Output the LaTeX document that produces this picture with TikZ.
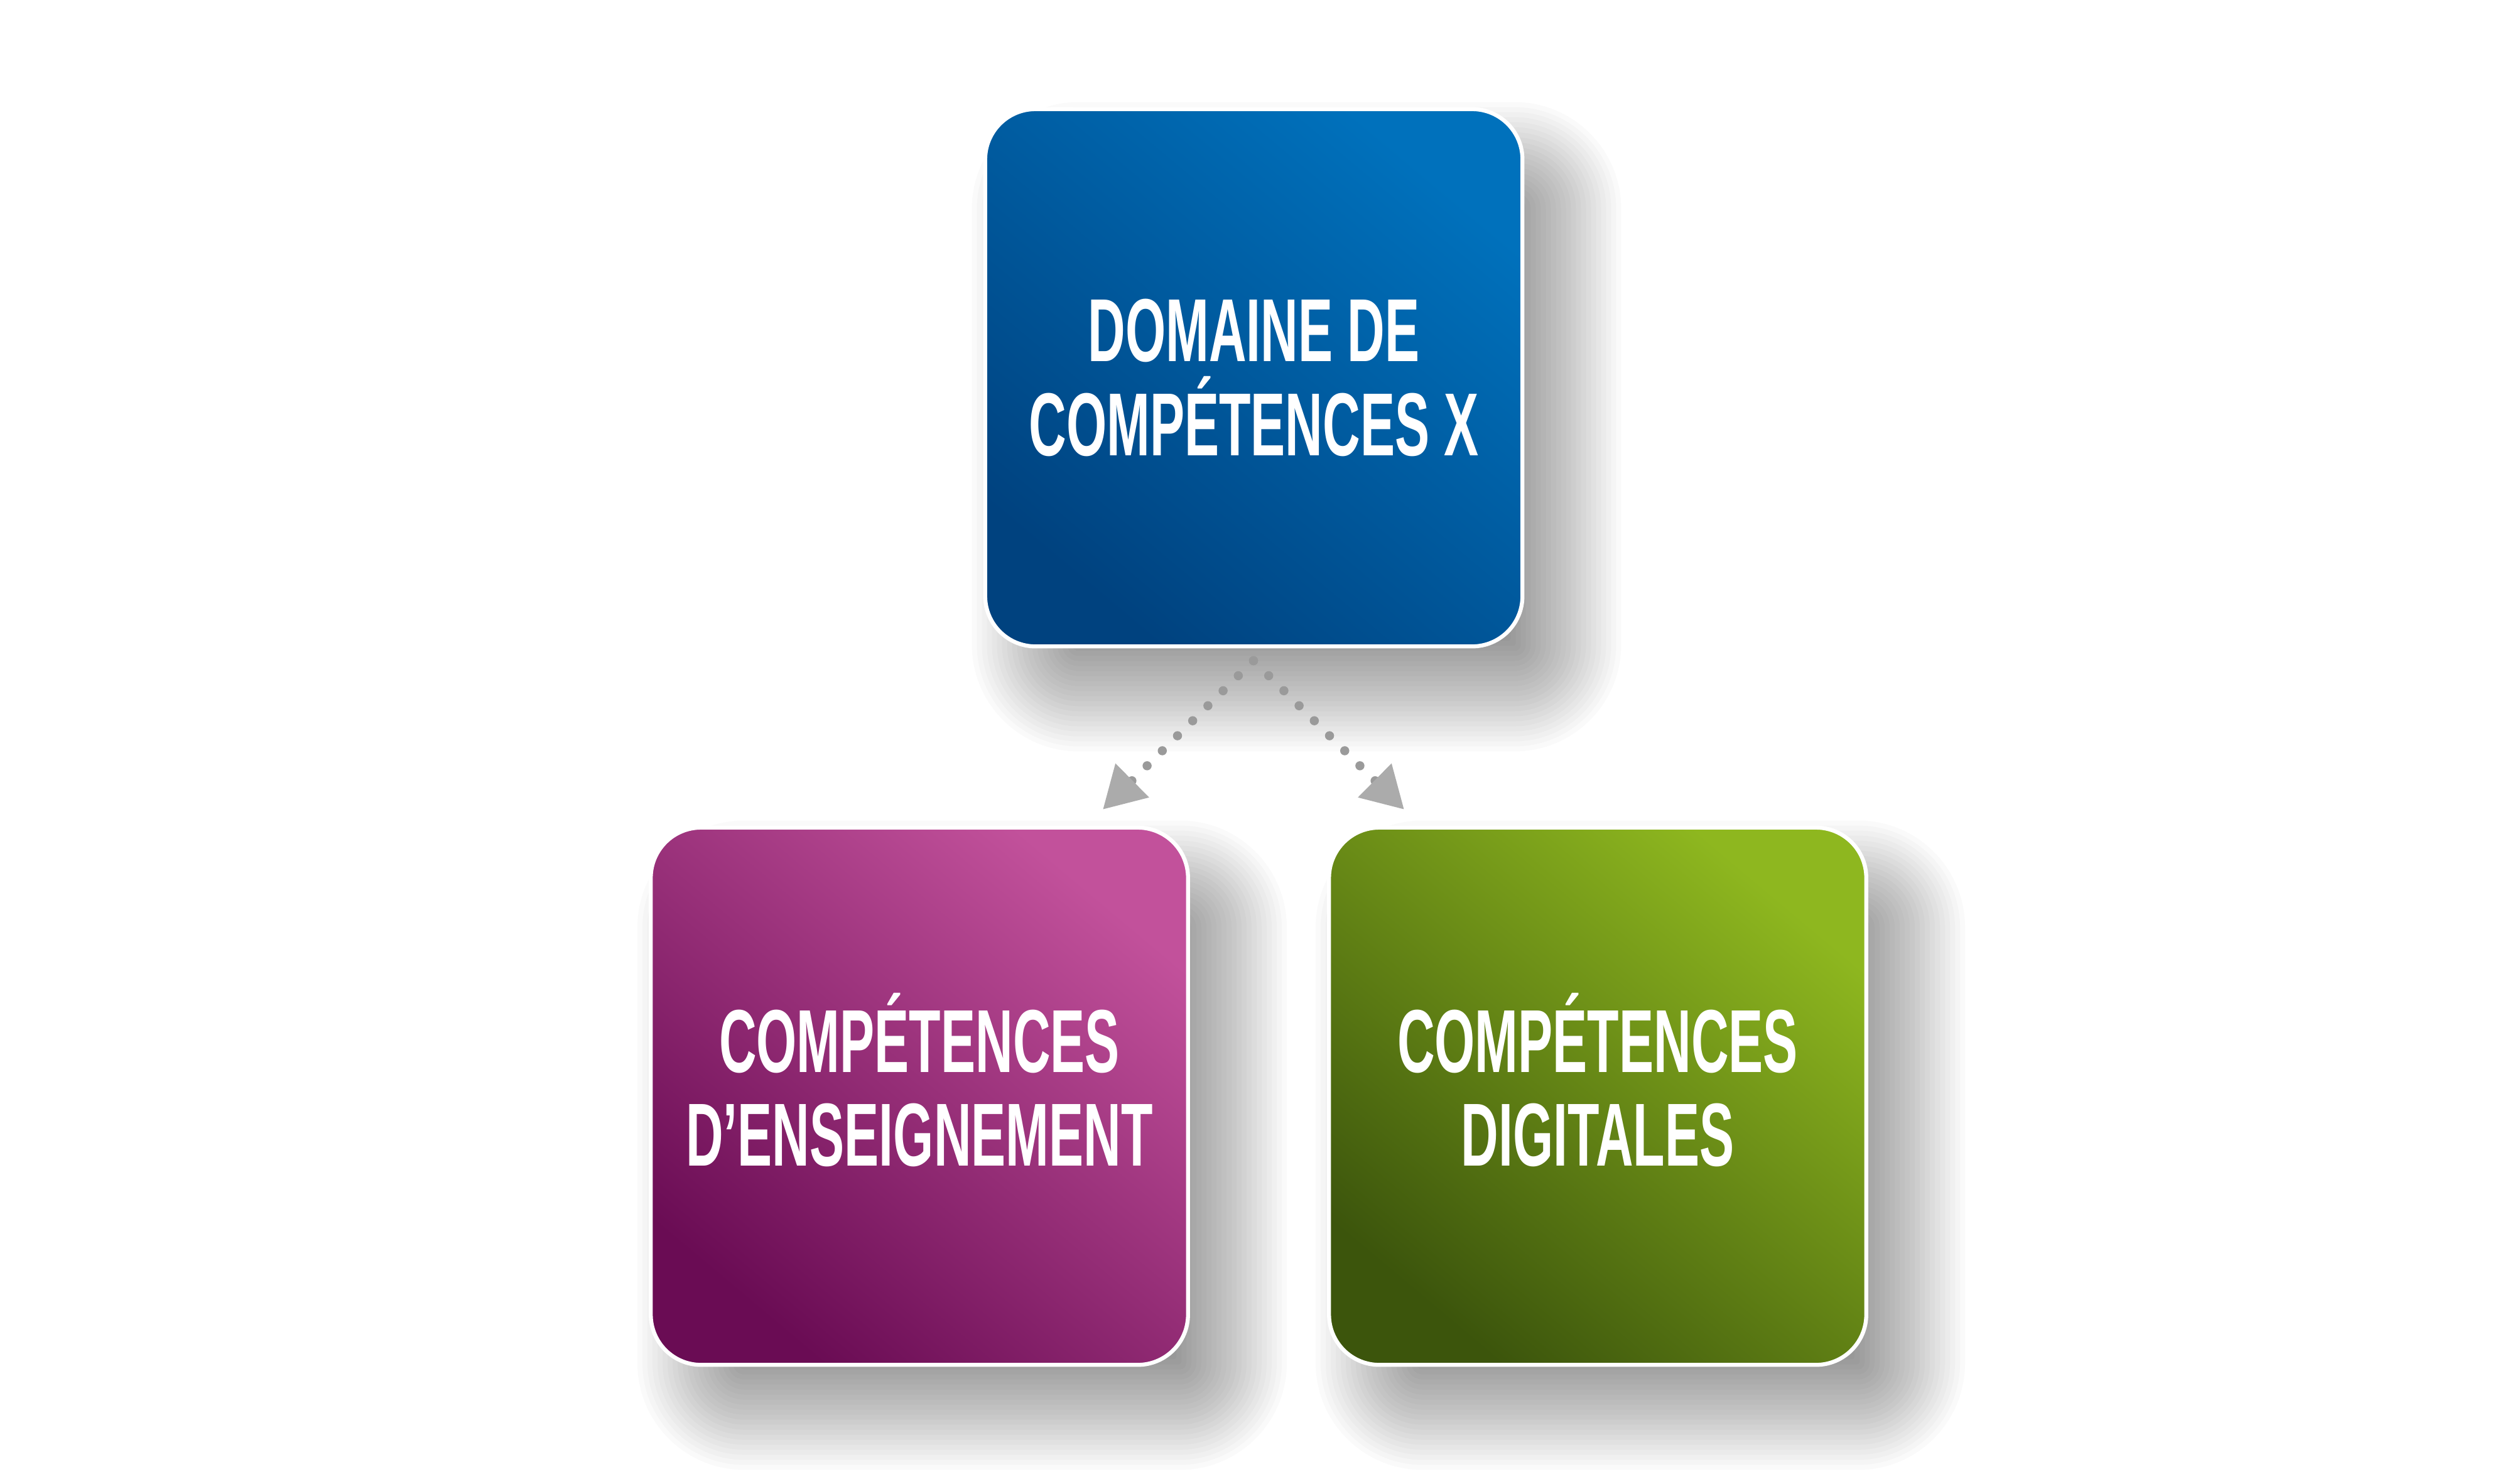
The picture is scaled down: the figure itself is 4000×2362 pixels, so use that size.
\documentclass[tikz,border=0pt]{standalone}
\usepackage{fontspec}
\newfontfamily\osw[FakeStretch=0.58]{Liberation Sans}
\usetikzlibrary{arrows.meta,calc}
\definecolor{blueL}{HTML}{0071BC}
\definecolor{blueD}{HTML}{00427F}
\definecolor{purL}{HTML}{C2519B}
\definecolor{purD}{HTML}{6A0C54}
\definecolor{grnL}{HTML}{8EB71F}
\definecolor{grnD}{HTML}{3C550C}
\definecolor{dotgray}{HTML}{9A9A9A}
\definecolor{tipgray}{HTML}{ABABAB}
\tikzset{
  card/.style={draw=white, line width=1.8pt, rounded corners=0.8cm,
    minimum width=8.55cm, minimum height=8.55cm, inner sep=0pt,
    align=center, text=white,
    font=\osw\bfseries\fontsize{40.5pt}{42.4pt}\selectfont},
  bluecard/.style={card, top color=blueL, bottom color=blueD, shading angle=-40},
  purcard/.style={card, top color=purL, bottom color=purD, shading angle=-40},
  grncard/.style={card, top color=grnL, bottom color=grnD, shading angle=-40},
  shadowlayer/.style={fill=black, fill opacity=0.019, draw=none},
  dotline/.style={dotgray, line width=0.145cm, line cap=round,
    dash pattern=on 0pt off 0.34cm,
    -{Triangle[length=0.66cm, width=0.72cm, fill=tipgray, color=tipgray]}}
}
% soft shadow behind a card centred at (#1,#2)
\newcommand\cardshadow[2]{%
  \foreach \e in {90,82,...,-100}{%
    \pgfmathsetmacro\rr{max(4,80+\e)}%
    \fill[shadowlayer, rounded corners=\rr*0.01cm]
      ({#1+68-427-\e},{#2+78-427-\e}) rectangle ({#1+68+427+\e},{#2+78+427+\e});
  }%
}
\begin{document}
\begin{tikzpicture}[x=0.01cm, y=-0.01cm]
  \useasboundingbox[fill=white] (0,0) rectangle (4000,2362);
  \cardshadow{1996.5}{601.5}
  \cardshadow{1464}{1745.5}
  \cardshadow{2544}{1745.5}
  \node[bluecard] (dom) at (1996.5,601.5)
    {DOMAINE DE\\COMPÉTENCES X};
  \node[purcard] (ens) at (1464,1745.5)
    {COMP\smash{É}TENCES\\D’ENSEIGNEMENT\rule[-0.26cm]{0pt}{0pt}};
  \node[grncard] (dig) at (2544,1745.5)
    {COMP\smash{É}TENCES\\DIGITALES\rule[-0.26cm]{0pt}{0pt}};
  \coordinate (apex) at (1996,1052);
  \coordinate (tipL) at (1756,1289);
  \coordinate (tipR) at (2236,1289);
  \draw[dotline] (apex) -- (tipL);
  \draw[dotline] (apex) -- (tipR);
\end{tikzpicture}
\end{document}
